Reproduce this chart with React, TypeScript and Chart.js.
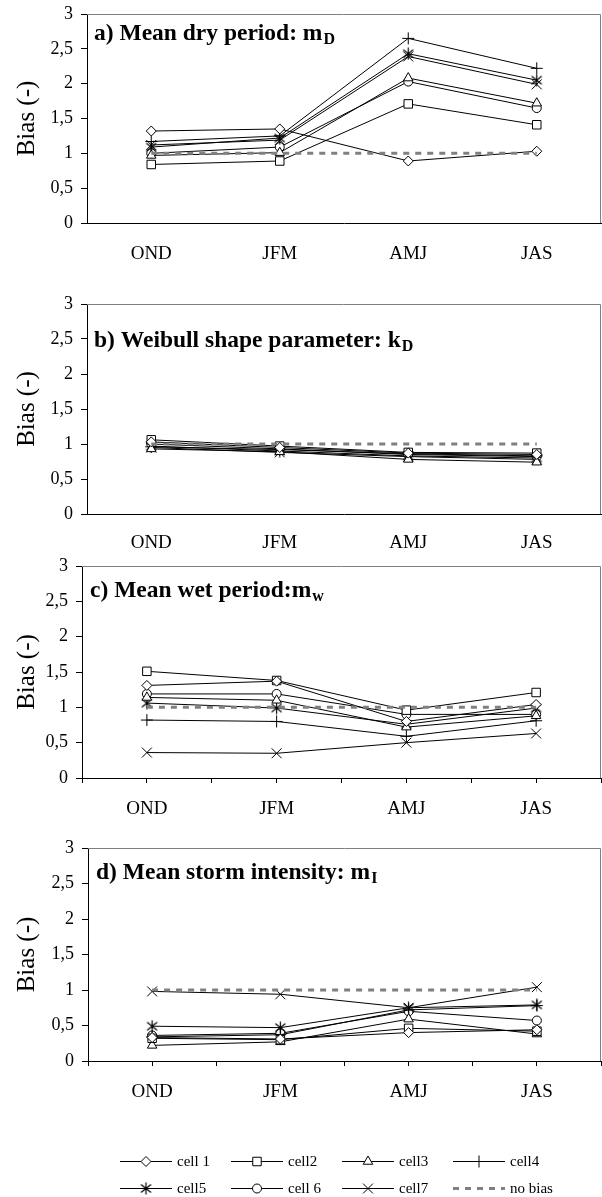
import React, { useEffect, useRef } from 'react';
import { Chart, registerables } from 'chart.js';
import { drawPoint } from 'chart.js/helpers';

Chart.register(...registerables);

const FONT = '"Liberation Serif", "Times New Roman", serif';

// ---------- data ----------
const categories = ['OND', 'JFM', 'AMJ', 'JAS'];
const yTickLabels = ['0', '0,5', '1', '1,5', '2', '2,5', '3'];
const seriesNames = ['cell 1', 'cell2', 'cell3', 'cell4', 'cell5', 'cell 6', 'cell7', 'no bias'];
const noBias = [1, 1, 1, 1];

// a) Mean dry period
const dryCell1 = [1.32, 1.35, 0.89, 1.03];
const dryCell2 = [0.84, 0.89, 1.71, 1.41];
const dryCell3 = [0.97, 1.01, 2.08, 1.72];
const dryCell4 = [1.17, 1.25, 2.65, 2.22];
const dryCell5 = [1.09, 1.22, 2.43, 2.05];
const dryCell6 = [1.0, 1.09, 2.03, 1.65];
const dryCell7 = [1.12, 1.19, 2.39, 1.99];

// b) Weibull shape parameter
const shapeCell1 = [1.03, 0.95, 0.87, 0.85];
const shapeCell2 = [1.06, 0.97, 0.88, 0.87];
const shapeCell3 = [0.93, 0.89, 0.78, 0.74];
const shapeCell4 = [0.96, 0.92, 0.86, 0.83];
const shapeCell5 = [0.97, 0.9, 0.83, 0.8];
const shapeCell6 = [1.0, 0.93, 0.85, 0.82];
const shapeCell7 = [0.95, 0.88, 0.82, 0.78];

// c) Mean wet period
const wetCell1 = [1.31, 1.37, 0.8, 1.04];
const wetCell2 = [1.51, 1.38, 0.96, 1.21];
const wetCell3 = [1.14, 1.1, 0.72, 0.88];
const wetCell4 = [0.82, 0.8, 0.59, 0.81];
const wetCell5 = [1.06, 0.99, 0.76, 0.99];
const wetCell6 = [1.19, 1.19, 0.9, 0.9];
const wetCell7 = [0.36, 0.35, 0.5, 0.63];

// d) Mean storm intensity
const intCell1 = [0.33, 0.31, 0.4, 0.44];
const intCell2 = [0.32, 0.3, 0.46, 0.42];
const intCell3 = [0.22, 0.27, 0.59, 0.38];
const intCell4 = [0.34, 0.37, 0.72, 0.78];
const intCell5 = [0.49, 0.47, 0.75, 0.79];
const intCell6 = [0.36, 0.39, 0.7, 0.57];
const intCell7 = [0.98, 0.94, 0.75, 1.04];

// ---------- styles ----------
function makeAsterisk(): HTMLCanvasElement {
  const c = document.createElement('canvas');
  c.width = 13;
  c.height = 13;
  const ctx = c.getContext('2d')!;
  ctx.strokeStyle = '#000';
  ctx.lineWidth = 1.2;
  ctx.beginPath();
  ctx.moveTo(6.5, 0.5);
  ctx.lineTo(6.5, 12.5);
  ctx.moveTo(1.5, 2.5);
  ctx.lineTo(11.5, 10.5);
  ctx.moveTo(11.5, 2.5);
  ctx.lineTo(1.5, 10.5);
  ctx.stroke();
  return c;
}

type PanelSpec = {
  top: number;
  height: number;
  plotTop: number;
  plotBottom: number;
  left: number;
  title: string;
  sub: string;
  titleX: number;
  titleBase: number;
  xTicks: boolean;
  labelPad: number;
  series: number[][];
  legend: boolean;
};

const panels: PanelSpec[] = [
  {
    top: 0, height: 280, plotTop: 14, plotBottom: 223, left: 87,
    title: 'a) Mean dry period: m', sub: 'D', titleX: 94, titleBase: 26,
    xTicks: false, labelPad: 20, legend: false,
    series: [dryCell1, dryCell2, dryCell3, dryCell4, dryCell5, dryCell6, dryCell7],
  },
  {
    top: 280, height: 270, plotTop: 24, plotBottom: 234, left: 87,
    title: 'b) Weibull shape parameter: k', sub: 'D', titleX: 94, titleBase: 43,
    xTicks: false, labelPad: 18, legend: false,
    series: [shapeCell1, shapeCell2, shapeCell3, shapeCell4, shapeCell5, shapeCell6, shapeCell7],
  },
  {
    top: 550, height: 280, plotTop: 16, plotBottom: 228, left: 82,
    title: 'c) Mean wet period:m', sub: 'w', titleX: 90, titleBase: 31,
    xTicks: true, labelPad: 15, legend: false,
    series: [wetCell1, wetCell2, wetCell3, wetCell4, wetCell5, wetCell6, wetCell7],
  },
  {
    top: 830, height: 367, plotTop: 18, plotBottom: 231, left: 88,
    title: 'd) Mean storm intensity: m', sub: 'I', titleX: 96, titleBase: 31,
    xTicks: true, labelPad: 15, legend: true,
    series: [intCell1, intCell2, intCell3, intCell4, intCell5, intCell6, intCell7],
  },
];

const titlePlugin = {
  id: 'panelTitle',
  afterDraw(chart: any, _args: any, opts: any) {
    const { ctx, chartArea } = chart;
    ctx.save();
    ctx.fillStyle = '#000';
    ctx.textBaseline = 'alphabetic';
    ctx.textAlign = 'left';
    ctx.font = `bold 23.5px ${FONT}`;
    const y = chartArea.top + opts.base;
    ctx.fillText(opts.text, opts.x, y);
    const w = ctx.measureText(opts.text).width;
    ctx.font = `bold 16px ${FONT}`;
    ctx.fillText(opts.sub, opts.x + w + 1, y + 4);
    ctx.restore();
  },
};

const framePlugin = {
  id: 'frame',
  afterDatasetsDraw(chart: any) {
    const { ctx, chartArea } = chart;
    ctx.save();
    ctx.strokeStyle = '#808080';
    ctx.lineWidth = 1;
    ctx.beginPath();
    ctx.moveTo(chartArea.left, Math.round(chartArea.top) + 0.5);
    ctx.lineTo(Math.round(chartArea.right) - 0.5, Math.round(chartArea.top) + 0.5);
    ctx.lineTo(Math.round(chartArea.right) - 0.5, chartArea.bottom);
    ctx.stroke();
    ctx.restore();
  },
};

const legendPlugin = {
  id: 'bottomLegend',
  afterDraw(chart: any, _args: any, opts: any) {
    if (!opts || !opts.show) return;
    const { ctx } = chart;
    const colX = [120, 231, 342, 453];
    const rowY = [331, 358];
    chart.data.datasets.forEach((ds: any, i: number) => {
      const x0 = colX[i % 4];
      const y = rowY[Math.floor(i / 4)];
      ctx.save();
      ctx.strokeStyle = ds.borderColor;
      ctx.lineWidth = ds.borderWidth;
      if (ds.borderDash) ctx.setLineDash(ds.borderDash);
      ctx.beginPath();
      ctx.moveTo(x0, y + 0.5);
      ctx.lineTo(x0 + 52, y + 0.5);
      ctx.stroke();
      ctx.setLineDash([]);
      if (ds.pointRadius > 0) {
        ctx.fillStyle = '#fff';
        ctx.strokeStyle = '#000';
        ctx.lineWidth = 1;
        drawPoint(ctx, { pointStyle: ds.pointStyle, rotation: 0, radius: ds.pointRadius, borderWidth: 1 } as any, x0 + 26, y + 0.5);
      }
      ctx.fillStyle = '#000';
      ctx.font = `15px ${FONT}`;
      ctx.textBaseline = 'middle';
      ctx.textAlign = 'left';
      ctx.fillText(ds.label, x0 + 57, y + 1);
      ctx.restore();
    });
  },
};

function Panel({ spec, star }: { spec: PanelSpec; star: HTMLCanvasElement }) {
  const ref = useRef<HTMLCanvasElement>(null);
  useEffect(() => {
    const styles: any[] = ['rectRot', 'rect', 'triangle', 'cross', star, 'circle', 'crossRot'];
    const radii = [5, 6, 5.5, 6, 6, 4.5, 7];
    const datasets: any[] = spec.series.map((vals, i) => ({
      label: seriesNames[i],
      data: vals.map((v, j) => ({ x: j, y: v })),
      borderColor: '#000',
      borderWidth: 1,
      backgroundColor: '#fff',
      pointStyle: styles[i],
      pointRadius: radii[i],
      pointBorderColor: '#000',
      pointBackgroundColor: '#fff',
      pointBorderWidth: 1,
      tension: 0,
      fill: false,
    }));
    datasets.push({
      label: seriesNames[7],
      data: noBias.map((v, j) => ({ x: j, y: v })),
      borderColor: '#808080',
      borderWidth: 3,
      borderDash: [6, 6],
      pointRadius: 0,
      fill: false,
      order: -1,
    });
    const H = spec.height;
    const chart = new Chart(ref.current!, {
      type: 'line',
      data: { datasets },
      options: {
        animation: false,
        responsive: false,
        events: [],
        layout: { autoPadding: false, padding: { top: spec.plotTop, right: 1, left: 0, bottom: 0 } },
        plugins: {
          legend: { display: false },
          tooltip: { enabled: false },
          panelTitle: { text: spec.title, sub: spec.sub, x: spec.titleX, base: spec.titleBase },
          bottomLegend: { show: spec.legend },
        } as any,
        scales: {
          x: {
            type: 'linear',
            min: -0.5,
            max: 3.5,
            afterFit: (s: any) => {
              s.height = H - spec.plotBottom;
              s.paddingLeft = 0;
              s.paddingRight = 0;
            },
            ticks: {
              stepSize: 0.5,
              autoSkip: false,
              maxRotation: 0,
              padding: spec.labelPad,
              color: '#000',
              font: { family: FONT, size: 19 },
              callback: (v: any) => (Number.isInteger(v) && v >= 0 && v < categories.length ? categories[v] : ''),
            },
            grid: {
              display: spec.xTicks,
              drawOnChartArea: false,
              drawTicks: spec.xTicks,
              tickLength: 5,
              color: '#000',
            },
            border: { display: true, color: '#000', width: 1 },
          },
          y: {
            min: 0,
            max: 3,
            afterFit: (s: any) => {
              s.width = spec.left;
              s.paddingTop = 0;
              s.paddingBottom = 0;
            },
            ticks: {
              stepSize: 0.5,
              padding: 8,
              color: '#000',
              font: { family: FONT, size: 18 },
              callback: (v: any) => yTickLabels[Math.round(Number(v) * 2)],
            },
            grid: { drawOnChartArea: false, drawTicks: true, tickLength: 6, color: '#000' },
            border: { display: true, color: '#000', width: 1 },
            title: {
              display: true,
              text: 'Bias (-)',
              color: '#000',
              font: { family: FONT, size: 25 },
              padding: { top: 12, bottom: 0 },
            },
          },
        },
      } as any,
      plugins: [titlePlugin, framePlugin, legendPlugin],
    });
    return () => chart.destroy();
  }, []);
  return (
    <canvas
      ref={ref}
      width={602}
      height={spec.height}
      style={{ position: 'absolute', left: 0, top: spec.top, width: 602, height: spec.height }}
    />
  );
}

export default function App() {
  const star = React.useMemo(() => makeAsterisk(), []);
  return (
    <div style={{ position: 'absolute', left: 0, top: 0, width: 602, height: 1197, background: '#fff' }}>
      {panels.map((p, i) => (
        <Panel key={i} spec={p} star={star} />
      ))}
    </div>
  );
}
